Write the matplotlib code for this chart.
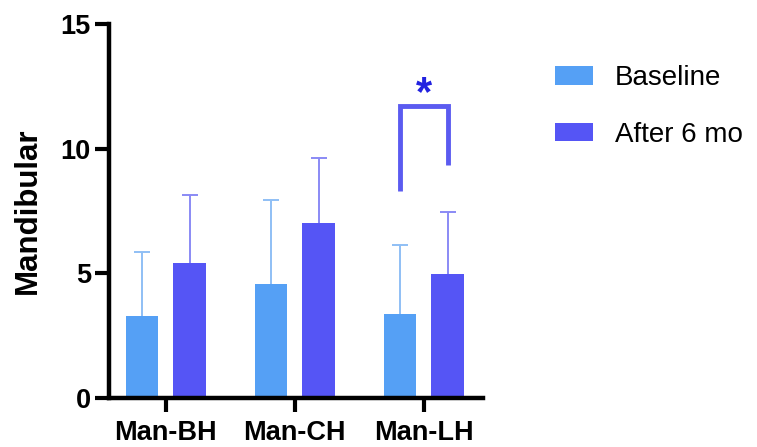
import matplotlib.pyplot as plt
import numpy as np

plt.rcParams['font.family'] = ['Liberation Sans', 'DejaVu Sans']

categories = ["Man-BH", "Man-CH", "Man-LH"]
baseline = [3.3, 4.55, 3.35]
baseline_sd = [2.55, 3.4, 2.8]
after = [5.4, 7.0, 4.97]
after_sd = [2.75, 2.62, 2.5]
series_labels = ["Baseline", "After 6 mo"]

BASE_COLOR = "#55a0f5"
AFTER_COLOR = "#5555f5"

fig = plt.figure(figsize=(7.57, 4.47), dpi=100)
ax = fig.add_axes([0.144, 0.11, 0.494, 0.836])

x = np.arange(len(categories))
offset = 0.185
width = 0.25

ax.bar(x - offset, baseline, width, color=BASE_COLOR, label=series_labels[0], zorder=2)
ax.bar(x + offset, after, width, color=AFTER_COLOR, label=series_labels[1], zorder=2)
for xs, ys, sd, col in [(x - offset, baseline, baseline_sd, "#8fbff5"),
                        (x + offset, after, after_sd, "#8a8af5")]:
    eb = ax.errorbar(xs, ys, yerr=[np.zeros(3), sd], fmt="none", ecolor=col,
                     elinewidth=1.4, capsize=6, capthick=1.4, zorder=1)
    # hide the lower caps sitting on top of the bars
    eb[1][0].set_visible(False)

# significance bracket on Man-LH
bx0, bx1 = x[2] - offset, x[2] + offset
ax.plot([bx0, bx0, bx1, bx1], [8.3, 11.7, 11.7, 9.35], color="#5b5bf0", lw=3.5,
        solid_capstyle="butt", solid_joinstyle="miter", clip_on=False)
ax.text(x[2], 12.2, "*", ha="center", va="center", color="#2222e0",
        fontsize=30, fontweight="bold")

ax.set_xlim(-0.44, 2.46)
ax.set_ylim(0, 15)
ax.set_yticks([0, 5, 10, 15])
ax.set_xticks(x)
ax.set_xticklabels(categories, fontsize=19.5, fontweight="bold")
for lbl in ax.get_yticklabels():
    lbl.set_fontsize(19.5)
    lbl.set_fontweight("bold")
ax.set_ylabel("Mandibular", fontsize=22.5, fontweight="bold")
ax.yaxis.set_label_coords(-0.178, 0.5)

for side in ["top", "right"]:
    ax.spines[side].set_visible(False)
for side in ["left", "bottom"]:
    ax.spines[side].set_linewidth(3.2)
ax.tick_params(axis="y", length=10, width=3, direction="out", pad=3)
ax.tick_params(axis="x", length=10, width=3, direction="out", pad=6)

fig.legend(loc="upper left", bbox_to_anchor=(555 / 757, 1 - 65 / 447),
           frameon=False, fontsize=20, handlelength=1.36, handleheight=0.65,
           labelspacing=1.1, handletextpad=0.8, borderpad=0, borderaxespad=0)

fig.savefig("out.png", dpi=100)
